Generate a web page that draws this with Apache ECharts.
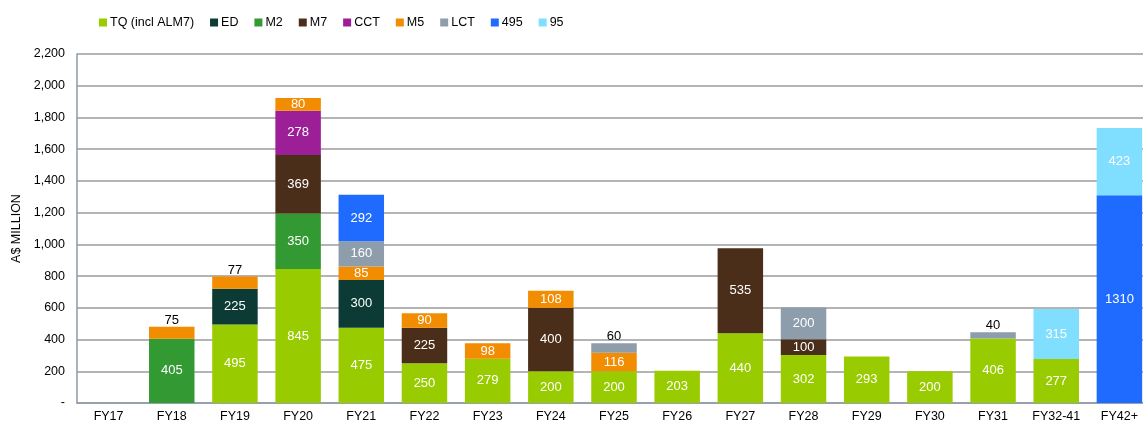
<!DOCTYPE html>
<html>
<head>
<meta charset="utf-8">
<script src="https://cdn.jsdelivr.net/npm/echarts@6/dist/echarts.min.js"></script>
<style>
html,body{margin:0;padding:0;background:#fff;overflow:hidden;width:1143px;height:425px;}
#c{width:1151px;height:425px;}
</style>
</head>
<body>
<div id="c"></div>
<script>
const categories = ['FY17','FY18','FY19','FY20','FY21','FY22','FY23','FY24','FY25','FY26','FY27','FY28','FY29','FY30','FY31','FY32-41','FY42+'];
const seriesNames = ['TQ (incl ALM7)','ED','M2','M7','CCT','M5','LCT','495','95'];
const TQ  = [null,null,495,845,475,250,279,200,200,203,440,302,293,200,406,277,null];
const ED  = [null,null,225,null,300,null,null,null,null,null,null,null,null,null,null,null,null];
const M2  = [null,405,null,350,null,null,null,null,null,null,null,null,null,null,null,null,null];
const M7  = [null,null,null,369,null,225,null,400,null,null,535,100,null,null,null,null,null];
const CCT = [null,null,null,278,null,null,null,null,null,null,null,null,null,null,null,null,null];
const M5  = [null,75,77,80,85,90,98,108,116,null,null,null,null,null,null,null,null];
const LCT = [null,null,null,null,160,null,null,null,60,null,null,200,null,null,40,null,null];
const S495 = [null,null,null,null,292,null,null,null,null,null,null,null,null,null,null,null,1310];
const S95 = [null,null,null,null,null,null,null,null,null,null,null,null,null,null,null,315,423];
const yTicks = [0,200,400,600,800,1000,1200,1400,1600,1800,2000,2200];
// segments whose value label sits above the bar in dark text: [series, category]
const outsideLabels = [['M5','FY18'],['M5','FY19'],['LCT','FY25'],['LCT','FY31']];

const colors = ['#99cc00','#0b3b34','#339933','#4a2e1a','#9c1f98','#f28c00','#8e9dac','#1f6bff','#80dfff'];
const values = [TQ,ED,M2,M7,CCT,M5,LCT,S495,S95];

const chart = echarts.init(document.getElementById('c'));
const series = seriesNames.map((name,i)=>({
  name,
  type:'bar',
  stack:'total',
  barCategoryGap:'28%',
  itemStyle:{color:colors[i]},
  label:{show:true,position:'inside',color:'#ffffff',fontSize:13,fontFamily:'Liberation Sans, Arial, sans-serif'},
  data: values[i].map((v,j)=>{
    if (v===null) return '-';
    const isOut = outsideLabels.some(o=>o[0]===(name==='TQ (incl ALM7)'?'TQ':name) && o[1]===categories[j]);
    if (isOut) return {value:v,label:{position:'top',distance:0,color:'#000000'}};
    return v;
  })
}));

chart.setOption({
  animation:false,
  textStyle:{fontFamily:'Liberation Sans, Arial, sans-serif'},
  legend:{
    top:11,left:94,
    itemWidth:8,itemHeight:8,itemGap:16,
    icon:'rect',
    textStyle:{fontSize:12.5,color:'#000',padding:[0,0,0,-2]},
    data:seriesNames
  },
  grid:{left:77,right:0,top:54,bottom:22,containLabel:false},
  xAxis:{
    type:'category',
    data:categories,
    axisLine:{lineStyle:{color:'#8c9aaa',width:1.5}},
    axisTick:{show:false},
    axisLabel:{color:'#000',fontSize:12.5,margin:7}
  },
  yAxis:{
    type:'value',
    min:yTicks[0],max:yTicks[yTicks.length-1],interval:yTicks[1]-yTicks[0],
    name:'A$ MILLION',
    nameLocation:'middle',
    nameGap:47,
    nameTextStyle:{color:'#000',fontSize:12.5},
    axisLine:{show:true,lineStyle:{color:'#8c9aaa',width:1.5}},
    axisTick:{show:false},
    splitLine:{lineStyle:{color:'#b4b4b4',width:2}},
    axisLabel:{
      color:'#000',fontSize:12.5,margin:12,
      formatter:v=> v===0?'-':v.toLocaleString('en-US')
    }
  },
  series
});
</script>
</body>
</html>
